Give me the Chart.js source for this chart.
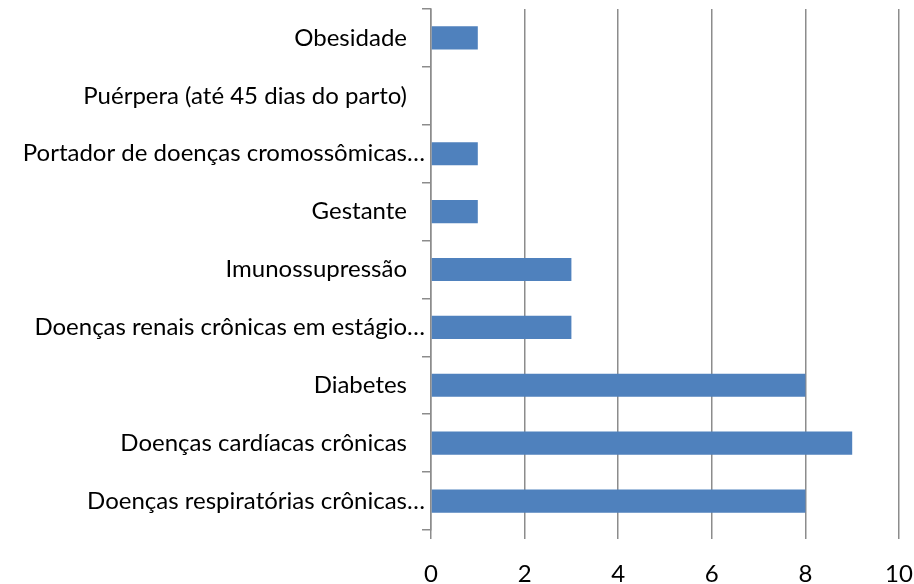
<!DOCTYPE html>
<html>
<head>
<meta charset="utf-8">
<script src="https://cdn.jsdelivr.net/npm/chart.js@4"></script>
<style>
  html, body { margin: 0; padding: 0; background: #fff; }
  #wrap { width: 914px; height: 584px; }
</style>
</head>
<body>
<div id="wrap"><canvas id="chart"></canvas></div>
<script>
// Categories, top to bottom as shown
const categories = [
    'Obesidade',
    'Puérpera (até 45 dias do parto)',
    'Portador de doenças cromossômicas…',
    'Gestante',
    'Imunossupressão',
    'Doenças renais crônicas em estágio…',
    'Diabetes',
    'Doenças cardíacas crônicas',
    'Doenças respiratórias crônicas…'
];
const counts = [1, 0, 1, 1, 3, 3, 8, 9, 8];
const xTicks = [0, 2, 4, 6, 8, 10];

const gridColor = '#8c8c8c';
const fontFamily = 'Lato, "Liberation Sans", sans-serif';

const ctx = document.getElementById('chart').getContext('2d');
new Chart(ctx, {
    type: 'bar',
    data: {
        labels: categories,
        datasets: [{
            data: counts,
            backgroundColor: '#4f81bd',
            borderWidth: 0,
            barPercentage: 0.4,
            categoryPercentage: 1
        }]
    },
    options: {
        indexAxis: 'y',
        responsive: true,
        maintainAspectRatio: false,
        animation: false,
        layout: { padding: 0 },
        plugins: {
            legend: { display: false },
            tooltip: { enabled: false }
        },
        scales: {
            x: {
                min: xTicks[0],
                max: xTicks[xTicks.length - 1],
                afterBuildTicks: scale => {
                    scale.ticks = xTicks.map(v => ({ value: v }));
                },
                afterFit: scale => {
                    scale.height = 54;
                    scale.paddingRight = 15;
                },
                border: { display: false },
                grid: {
                    color: gridColor,
                    lineWidth: 1.5,
                    tickLength: 9,
                    drawTicks: true
                },
                ticks: {
                    color: '#000',
                    padding: 21,
                    font: { family: fontFamily, size: 24 }
                }
            },
            y: {
                afterFit: scale => {
                    scale.width = 431;
                    scale.paddingTop = 9;
                    scale.paddingBottom = 0;
                },
                border: { display: true, color: gridColor, width: 1.5 },
                grid: {
                    offset: true,
                    drawOnChartArea: false,
                    drawTicks: true,
                    tickLength: 9,
                    color: gridColor,
                    lineWidth: 1.5
                },
                ticks: {
                    color: '#000',
                    padding: -3,
                    font: { family: fontFamily, size: 24 },
                    // labels that were not cut keep the extra right margin
                    callback: function (value) {
                        const label = this.getLabelForValue(value);
                        return label.endsWith('…') ? label : label + '\u2002\u2009\u2009';
                    }
                }
            }
        }
    }
});
</script>
</body>
</html>
